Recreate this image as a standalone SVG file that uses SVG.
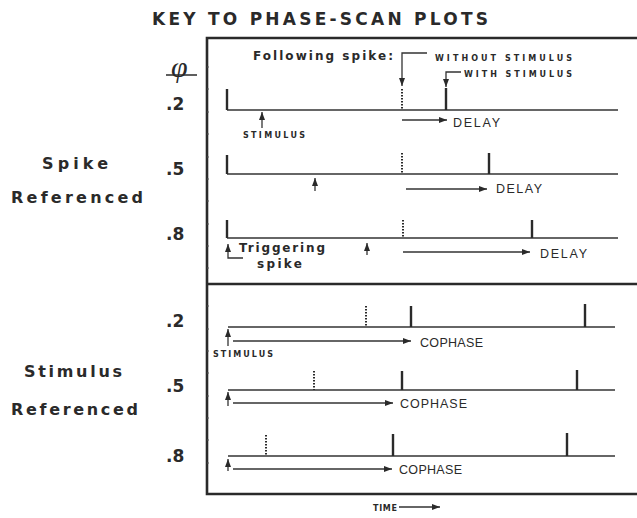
<svg xmlns="http://www.w3.org/2000/svg" width="637" height="518" viewBox="0 0 637 518">
  <style>
    .title { font-family: "DejaVu Sans", "Liberation Sans", sans-serif; font-weight: bold; fill: #2a2a2a; }
    .side { font-family: "DejaVu Sans", "Liberation Sans", sans-serif; font-weight: bold; fill: #2a2a2a; font-size: 16px; }
    .phase { font-family: "DejaVu Sans", "Liberation Sans", sans-serif; font-weight: bold; fill: #2a2a2a; font-size: 17px; }
    .lbl { font-family: "Liberation Sans", Arial, sans-serif; fill: #2a2a2a; font-size: 12.5px; }
    .small { font-family: "DejaVu Sans", "Liberation Sans", sans-serif; font-weight: bold; fill: #2a2a2a; font-size: 8px; }
    .base { stroke: #333; stroke-width: 1.4; fill: none; }
    .spike { stroke: #2a2a2a; stroke-width: 2.4; fill: none; }
    .dots { stroke: #2a2a2a; stroke-width: 2; stroke-dasharray: 1.5 1.5; fill: none; }
    .arrow { stroke: #333; stroke-width: 1.3; fill: none; marker-end: url(#head); }
    .frame { stroke: #2a2a2a; stroke-width: 2.6; fill: none; }
    .tick { stroke: #555; stroke-width: 1; }
  </style>
  <defs>
    <marker id="head" markerUnits="userSpaceOnUse" markerWidth="8" markerHeight="6" refX="8" refY="3" orient="auto">
      <path d="M0,0 L8,3 L0,6 z" fill="#2a2a2a"/>
    </marker>
  </defs>

  <rect width="637" height="518" fill="#ffffff"/>

  <!-- heading -->
  <text class="title" x="152" y="25" font-size="17" textLength="336" lengthAdjust="spacing">KEY TO PHASE-SCAN PLOTS</text>

  <!-- frame: top, left, divider, bottom (right side runs off the page) -->
  <g id="frame">
    <path class="frame" d="M637,38 H207 V494 H637"/>
    <path class="frame" d="M207,284 H637"/>
    <path class="tick" d="M207,67 h2 M207,89 h2 M207,112 h2 M207,134 h2 M207,157 h2 M207,179 h2 M207,201 h2 M207,224 h2 M207,246 h2 M207,268 h2 M207,306 h2 M207,329 h2 M207,351 h2 M207,373 h2 M207,396 h2 M207,418 h2 M207,440 h2 M207,463 h2"/>
  </g>

  <!-- phase column -->
  <g id="phase-axis">
    <text x="171" y="77" font-family="'Liberation Serif', serif" font-style="italic" font-size="30" fill="#2a2a2a">φ</text>
    <path d="M166,75 H197" stroke="#2a2a2a" stroke-width="1.5"/>
    <text class="phase" x="166" y="110">.2</text>
    <text class="phase" x="166" y="175">.5</text>
    <text class="phase" x="166" y="240">.8</text>
    <text class="phase" x="166" y="327">.2</text>
    <text class="phase" x="166" y="392">.5</text>
    <text class="phase" x="166" y="462">.8</text>
  </g>

  <!-- section names -->
  <g id="section-spike">
    <text class="side" x="42" y="169" textLength="66" lengthAdjust="spacing">Spike</text>
    <text class="side" x="11" y="203" textLength="132" lengthAdjust="spacing">Referenced</text>
  </g>
  <g id="section-stimulus">
    <text class="side" x="24" y="377" textLength="98" lengthAdjust="spacing">Stimulus</text>
    <text class="side" x="11" y="415" textLength="127" lengthAdjust="spacing">Referenced</text>
  </g>

  <!-- legend for the following spike -->
  <g id="legend">
    <text x="253" y="60" font-family="'DejaVu Sans', sans-serif" font-weight="bold" font-size="12" fill="#2a2a2a" textLength="140" lengthAdjust="spacing">Following spike:</text>
    <path class="arrow" d="M427,53 H402 V86"/>
    <text class="small" x="435" y="61" textLength="137" lengthAdjust="spacing">WITHOUT STIMULUS</text>
    <path class="arrow" d="M461,72 H446 V87"/>
    <text class="small" x="464" y="77" textLength="108" lengthAdjust="spacing">WITH STIMULUS</text>
  </g>

  <!-- spike-referenced traces -->
  <g id="spike-row-2">
    <path class="base" d="M227,110 H618"/>
    <path class="spike" d="M227,89 V110"/>
    <path class="dots" d="M402,89 V110"/>
    <path class="spike" d="M446,88 V110"/>
    <path class="arrow" d="M262,128 V112"/>
    <text class="small" x="243" y="138" textLength="62" lengthAdjust="spacing">STIMULUS</text>
    <path class="arrow" d="M402,120 H447"/>
    <text class="lbl" x="453" y="127" textLength="47" lengthAdjust="spacing">DELAY</text>
  </g>

  <g id="spike-row-5">
    <path class="base" d="M227,174 H618"/>
    <path class="spike" d="M227,155 V174"/>
    <path class="dots" d="M402,153 V174"/>
    <path class="spike" d="M489,153 V174"/>
    <path class="arrow" d="M315,191 V178"/>
    <path class="arrow" d="M406,189 H487"/>
    <text class="lbl" x="496" y="193" textLength="46" lengthAdjust="spacing">DELAY</text>
  </g>

  <g id="spike-row-8">
    <path class="base" d="M227,238 H618"/>
    <path class="spike" d="M227,220 V238"/>
    <path class="dots" d="M403,220 V238"/>
    <path class="spike" d="M532,220 V238"/>
    <path class="arrow" d="M367,255 V243"/>
    <path class="arrow" d="M403,252 H530"/>
    <text class="lbl" x="540" y="258" textLength="47" lengthAdjust="spacing">DELAY</text>
    <path class="arrow" d="M243,258 H228 V244"/>
    <text x="239" y="252" font-family="'DejaVu Sans', sans-serif" font-weight="bold" font-size="12" fill="#2a2a2a" textLength="86" lengthAdjust="spacing">Triggering</text>
    <text x="257" y="268" font-family="'DejaVu Sans', sans-serif" font-weight="bold" font-size="12" fill="#2a2a2a" textLength="45" lengthAdjust="spacing">spike</text>
  </g>

  <!-- stimulus-referenced traces -->
  <g id="stim-row-2">
    <path class="base" d="M228,327 H615"/>
    <path class="dots" d="M366,306 V327"/>
    <path class="spike" d="M411,306 V327"/>
    <path class="spike" d="M585,304 V327"/>
    <path class="arrow" d="M228,346 V329"/>
    <path class="arrow" d="M233,341 H411"/>
    <text class="lbl" x="420" y="347" textLength="63" lengthAdjust="spacing">COPHASE</text>
    <text class="small" x="213" y="357" textLength="60" lengthAdjust="spacing">STIMULUS</text>
  </g>

  <g id="stim-row-5">
    <path class="base" d="M228,390 H615"/>
    <path class="dots" d="M314,371 V390"/>
    <path class="spike" d="M402,371 V390"/>
    <path class="spike" d="M577,370 V390"/>
    <path class="arrow" d="M228,406 V392"/>
    <path class="arrow" d="M233,403 H393"/>
    <text class="lbl" x="400" y="408" textLength="67" lengthAdjust="spacing">COPHASE</text>
  </g>

  <g id="stim-row-8">
    <path class="base" d="M228,456 H615"/>
    <path class="dots" d="M266,435 V456"/>
    <path class="spike" d="M393,434 V456"/>
    <path class="spike" d="M567,433 V456"/>
    <path class="arrow" d="M228,471 V459"/>
    <path class="arrow" d="M233,469 H392"/>
    <text class="lbl" x="399" y="474" textLength="63" lengthAdjust="spacing">COPHASE</text>
  </g>

  <!-- time axis note -->
  <g id="time-axis">
    <text class="small" x="373" y="511" textLength="24" lengthAdjust="spacing">TIME</text>
    <path class="arrow" d="M399,507 H440"/>
  </g>
</svg>
